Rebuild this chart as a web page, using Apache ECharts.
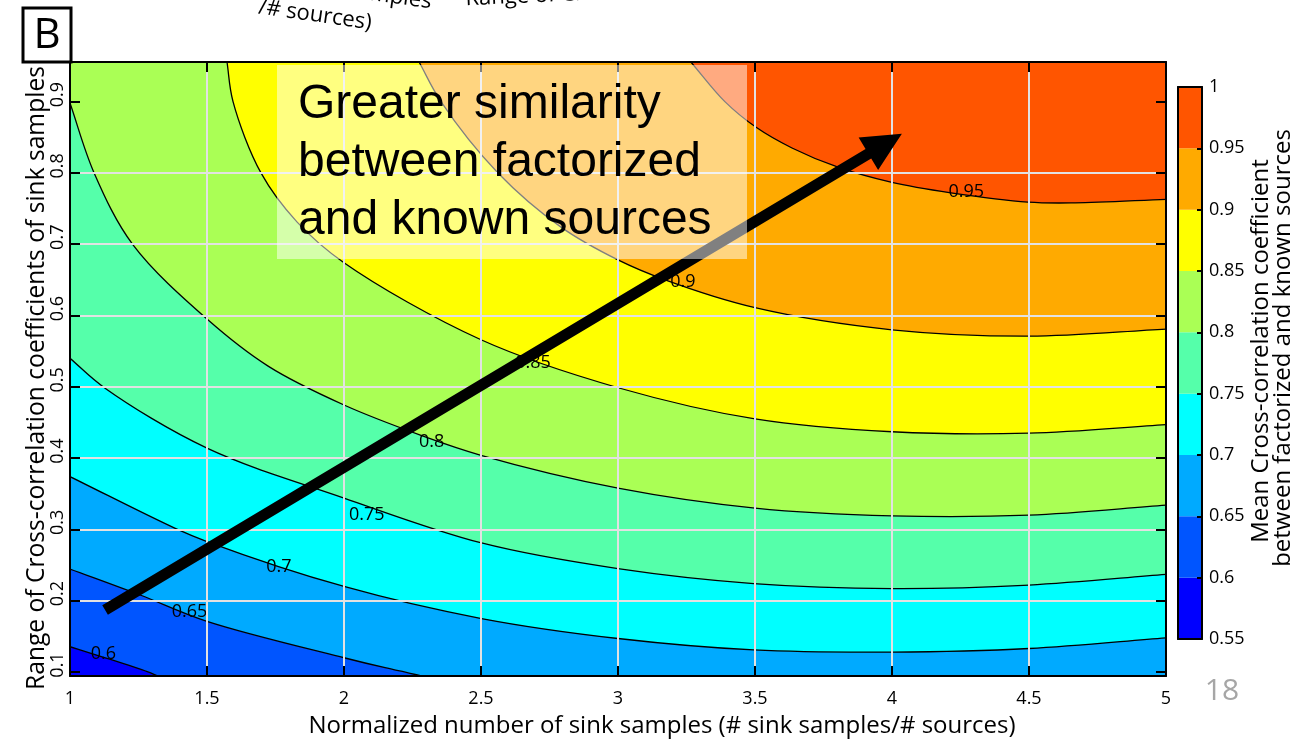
<!DOCTYPE html>
<html>
<head>
<meta charset="utf-8">
<script src="https://cdn.jsdelivr.net/npm/echarts@6/dist/echarts.min.js"></script>
<style>
  html, body { margin: 0; padding: 0; background: #fff; }
  #chart { width: 1294px; height: 744px; }
</style>
</head>
<body>
<div id="chart"></div>
<script>
// ---- data -------------------------------------------------------------
// contour levels (band edges) and the colour of each band between them
const levels = [0.55, 0.6, 0.65, 0.7, 0.75, 0.8, 0.85, 0.9, 0.95, 1.0];
const bandColors = ['#0000FF', '#0055FF', '#00AAFF', '#00FFFF', '#55FFAA',
                    '#AAFF55', '#FFFF00', '#FFAA00', '#FF5500'];

// axis ranges and ticks
const xRange = [1, 5];
const yRange = [0.0944, 0.9556];
const yTicks = [0.1, 0.2, 0.3, 0.4, 0.5, 0.6, 0.7, 0.8, 0.9];

// contour lines: [normalized number of sink samples, range of cross-correlation]
const contour095 = [[3.266, 0.9556], [3.390, 0.900], [3.504, 0.864], [3.635, 0.835], [3.803, 0.808],
                    [3.996, 0.787], [4.215, 0.772], [4.496, 0.759], [4.668, 0.758], [5.000, 0.763]];
const contour090 = [[2.274, 0.9556], [2.354, 0.900], [2.562, 0.800], [2.792, 0.724], [3.000, 0.678],
                    [3.172, 0.650], [3.500, 0.611], [4.000, 0.580], [4.500, 0.571], [5.000, 0.581]];
const contour085 = [[1.573, 0.9556], [1.595, 0.900], [1.697, 0.800], [1.829, 0.731], [2.000, 0.674],
                    [2.500, 0.566], [3.007, 0.498], [3.500, 0.455], [4.000, 0.437], [4.500, 0.435],
                    [5.000, 0.447]];
const contour080 = [[1.000, 0.898], [1.088, 0.800], [1.230, 0.699], [1.500, 0.595], [1.723, 0.529],
                    [2.000, 0.4745], [2.281, 0.432], [2.500, 0.404], [3.000, 0.358], [3.500, 0.330],
                    [4.000, 0.319], [4.500, 0.320], [5.000, 0.334]];
const contour075 = [[1.000, 0.540], [1.128, 0.498], [1.500, 0.414], [2.000, 0.344], [2.502, 0.281],
                    [3.000, 0.245], [3.495, 0.224], [4.000, 0.217], [4.500, 0.222], [5.000, 0.237]];
const contour070 = [[1.000, 0.374], [1.384, 0.3015], [1.500, 0.283], [2.000, 0.220], [2.502, 0.175],
                    [3.000, 0.147], [3.495, 0.131], [4.000, 0.128], [4.500, 0.133], [5.000, 0.148]];
const contour065 = [[1.000, 0.2445], [1.256, 0.208], [1.500, 0.171], [2.000, 0.120], [2.150, 0.106],
                    [2.287, 0.0944]];
const contour060 = [[1.000, 0.1355], [1.120, 0.121], [1.282, 0.1004], [1.320, 0.0944]];

// inline contour labels: [x, y, text]
const contourLabels = [[1.122, 0.126, '0.6'], [1.436, 0.1846, '0.65'], [1.762, 0.2477, '0.7'],
                       [2.083, 0.320, '0.75'], [2.320, 0.423, '0.8'], [2.690, 0.533, '0.85'],
                       [3.237, 0.647, '0.9'], [4.271, 0.774, '0.95']];

// trend arrow: tail and head
const arrowTail = [1.128, 0.187];
const arrowTip = [4.036, 0.855];

// ---- drawing ----------------------------------------------------------
const contours = [
  { level: 0.95, pts: contour095 },
  { level: 0.9, pts: contour090 },
  { level: 0.85, pts: contour085 },
  { level: 0.8, pts: contour080 },
  { level: 0.75, pts: contour075 },
  { level: 0.7, pts: contour070 },
  { level: 0.65, pts: contour065 },
  { level: 0.6, pts: contour060 }
];

const FONT = '"Open Sans", "Noto Sans", sans-serif';
const GRID_COLOR = '#e2e2e2';

// centripetal Catmull-Rom spline through pixel points, as cubic Bezier commands
function splineCommands(P) {
  const n = P.length;
  const ext = [[2 * P[0][0] - P[1][0], 2 * P[0][1] - P[1][1]]].concat(P,
              [[2 * P[n - 1][0] - P[n - 2][0], 2 * P[n - 1][1] - P[n - 2][1]]]);
  const dist = (a, b) => Math.hypot(b[0] - a[0], b[1] - a[1]);
  let d = '';
  for (let i = 1; i < ext.length - 2; i++) {
    const p0 = ext[i - 1], p1 = ext[i], p2 = ext[i + 1], p3 = ext[i + 2];
    const d1 = Math.sqrt(dist(p0, p1)), d2 = Math.sqrt(dist(p1, p2)), d3 = Math.sqrt(dist(p2, p3));
    const a = 2 * d1 * d1 + 3 * d1 * d2 + d2 * d2, na = 3 * d1 * (d1 + d2);
    const b = 2 * d3 * d3 + 3 * d3 * d2 + d2 * d2, nb = 3 * d3 * (d3 + d2);
    const c1 = [(p1[0] * a - p0[0] * d2 * d2 + p2[0] * d1 * d1) / na,
                (p1[1] * a - p0[1] * d2 * d2 + p2[1] * d1 * d1) / na];
    const c2 = [(p2[0] * b + p1[0] * d3 * d3 - p3[0] * d2 * d2) / nb,
                (p2[1] * b + p1[1] * d3 * d3 - p3[1] * d2 * d2) / nb];
    d += ' C' + c1[0] + ',' + c1[1] + ' ' + c2[0] + ',' + c2[1] + ' ' + p2[0] + ',' + p2[1];
  }
  return d;
}

function bandBelow(level) {
  const idx = levels.findIndex(l => Math.abs(l - level) < 1e-9);
  return bandColors[idx - 1];
}

// region under each contour, filled with the band colour just below that level
function renderFill(params, api) {
  const c = contours[params.dataIndex];
  const P = c.pts.map(p => api.coord(p));
  const first = c.pts[0], last = c.pts[c.pts.length - 1];
  const bl = api.coord([xRange[0], yRange[0]]);
  let d = 'M' + bl[0] + ',' + bl[1];
  if (first[0] > xRange[0] + 1e-9) {
    const tl = api.coord([xRange[0], yRange[1]]);
    d += ' L' + tl[0] + ',' + tl[1];
  }
  d += ' L' + P[0][0] + ',' + P[0][1] + splineCommands(P);
  const lb = api.coord([last[0], yRange[0]]);
  d += ' L' + lb[0] + ',' + lb[1] + ' Z';
  return { type: 'path', shape: { pathData: d }, style: { fill: bandBelow(c.level), stroke: null } };
}

function renderLine(params, api) {
  const c = contours[params.dataIndex];
  const P = c.pts.map(p => api.coord(p));
  const d = 'M' + P[0][0] + ',' + P[0][1] + splineCommands(P);
  return { type: 'path', shape: { pathData: d }, style: { fill: 'none', stroke: '#000', lineWidth: 1.3 } };
}

function renderLabel(params, api) {
  const l = contourLabels[params.dataIndex];
  const p = api.coord([l[0], l[1]]);
  return {
    type: 'text', x: p[0], y: p[1],
    style: { text: l[2], font: '18px ' + FONT, fill: '#000',
             align: 'center', verticalAlign: 'middle', textAlign: 'center', textVerticalAlign: 'middle' }
  };
}

function renderArrow(params, api) {
  const a = api.coord([api.value(0), api.value(1)]);
  const b = api.coord([api.value(2), api.value(3)]);
  const len = Math.hypot(b[0] - a[0], b[1] - a[1]);
  const ux = (b[0] - a[0]) / len, uy = (b[1] - a[1]) / len;
  const nx = -uy, ny = ux;
  const shaft = 5.5, head = 19, headLen = 39;
  const bx = b[0] - ux * headLen, by = b[1] - uy * headLen;
  const pts = [
    [a[0] + nx * shaft, a[1] + ny * shaft],
    [bx + nx * shaft, by + ny * shaft],
    [bx + nx * head, by + ny * head],
    [b[0], b[1]],
    [bx - nx * head, by - ny * head],
    [bx - nx * shaft, by - ny * shaft],
    [a[0] - nx * shaft, a[1] - ny * shaft]
  ];
  return { type: 'polygon', shape: { points: pts }, style: { fill: '#000' } };
}

function renderBand(params, api) {
  const lo = api.value(0), hi = api.value(1);
  const p1 = api.coord([0, hi]);
  const p2 = api.coord([1, lo]);
  return { type: 'rect', shape: { x: p1[0], y: p1[1], width: p2[0] - p1[0], height: p2[1] - p1[1] },
           style: { fill: bandColors[params.dataIndex] } };
}

function frameAxis(extra) {
  return Object.assign({
    type: 'value', z: 5,
    axisLine: { show: true, onZero: false, lineStyle: { color: '#000', width: 2 } },
    axisTick: { show: false },
    axisLabel: { show: false },
    splitLine: { show: false }
  }, extra);
}

function textEl(x, y, text, font, extra) {
  return Object.assign({
    type: 'text', z: 100, x: x, y: y,
    style: { text: text, font: font, fill: '#000',
             align: 'center', verticalAlign: 'middle', textAlign: 'center', textVerticalAlign: 'middle' }
  }, extra || {});
}

const tickStyle = { color: '#000', width: 2 };
const labelStyle = { fontFamily: FONT, fontSize: 18, color: '#000' };

const option = {
  animation: false,
  backgroundColor: '#fff',
  grid: [
    { left: 70, top: 62, width: 1096, height: 614, show: true,
      backgroundColor: bandColors[bandColors.length - 1], borderWidth: 0 },
    { left: 1178, top: 87, width: 24, height: 552, show: false }
  ],
  xAxis: [
    frameAxis({ gridIndex: 0, position: 'bottom', min: xRange[0], max: xRange[1], interval: 0.5,
      axisTick: { show: true, inside: true, length: 10, lineStyle: tickStyle },
      axisLabel: Object.assign({ show: true, margin: 14 }, labelStyle),
      splitLine: { show: true, showMinLine: false, showMaxLine: false, lineStyle: { color: GRID_COLOR, width: 2 } } }),
    frameAxis({ gridIndex: 0, position: 'top', min: xRange[0], max: xRange[1], interval: 0.5,
      axisTick: { show: true, inside: true, length: 10, lineStyle: tickStyle } }),
    frameAxis({ gridIndex: 1, position: 'bottom', min: 0, max: 1 }),
    frameAxis({ gridIndex: 1, position: 'top', min: 0, max: 1 })
  ],
  yAxis: [
    frameAxis({ gridIndex: 0, position: 'left', min: yRange[0], max: yRange[1],
      axisTick: { show: true, inside: true, length: 10, lineStyle: tickStyle, customValues: yTicks },
      axisLabel: Object.assign({ show: true, customValues: yTicks, rotate: 90, margin: 3, padding: [0, 0, 0, 14] }, labelStyle),
      splitLine: { show: true, showMinLine: false, showMaxLine: false, lineStyle: { color: GRID_COLOR, width: 2 } } }),
    frameAxis({ gridIndex: 0, position: 'right', min: yRange[0], max: yRange[1],
      axisTick: { show: true, inside: true, length: 10, lineStyle: tickStyle, customValues: yTicks } }),
    frameAxis({ gridIndex: 1, position: 'left', min: levels[0], max: levels[levels.length - 1], interval: 0.05 }),
    frameAxis({ gridIndex: 1, position: 'right', min: levels[0], max: levels[levels.length - 1], interval: 0.05,
      axisTick: { show: true, inside: true, length: 5, lineStyle: tickStyle },
      axisLabel: Object.assign({ show: true, margin: 7, formatter: v => String(+v.toFixed(2)) }, labelStyle) })
  ],
  series: [
    { type: 'custom', name: 'bands', xAxisIndex: 0, yAxisIndex: 0, clip: true, z: 1, silent: true,
      data: contours.map((c, i) => i), renderItem: renderFill },
    { type: 'custom', name: 'contours', xAxisIndex: 0, yAxisIndex: 0, clip: true, z: 2, silent: true,
      data: contours.map((c, i) => i), renderItem: renderLine },
    { type: 'custom', name: 'contour labels', xAxisIndex: 0, yAxisIndex: 0, z: 3, silent: true,
      data: contourLabels.map(l => [l[0], l[1]]), renderItem: renderLabel },
    { type: 'custom', name: 'trend', xAxisIndex: 0, yAxisIndex: 0, z: 8, silent: true,
      data: [[arrowTail[0], arrowTail[1], arrowTip[0], arrowTip[1]]], renderItem: renderArrow },
    { type: 'custom', name: 'colorbar', xAxisIndex: 2, yAxisIndex: 2, z: 1, silent: true,
      data: bandColors.map((c, i) => [levels[i], levels[i + 1]]), renderItem: renderBand }
  ],
  graphic: [
    { type: 'rect', z: 100, shape: { x: 277, y: 65, width: 470, height: 194 },
      style: { fill: 'rgba(255,255,255,0.5)' } },
    { type: 'text', z: 101, x: 298, y: 76,
      style: { text: 'Greater similarity\nbetween factorized\nand known sources',
               font: '48px "Liberation Sans", Arial, sans-serif', fill: '#000', lineHeight: 58,
               align: 'left', verticalAlign: 'top', textAlign: 'left', textVerticalAlign: 'top' } },
    { type: 'rect', z: 100, shape: { x: 23, y: 8, width: 48, height: 54 },
      style: { fill: '#fff', stroke: '#000', lineWidth: 3 } },
    textEl(47, 36, 'B', '42px ' + FONT, { z: 101 }),
    textEl(662, 726, 'Normalized number of sink samples (# sink samples/# sources)', '24px ' + FONT),
    textEl(37, 378, 'Range of Cross-correlation coefficients of sink samples', '24.6px ' + FONT,
           { rotation: Math.PI / 2 }),
    textEl(1261, 351, 'Mean Cross-correlation coefficient', '24px ' + FONT, { rotation: Math.PI / 2 }),
    textEl(1283, 348, 'between factorized and known sources', '24px ' + FONT, { rotation: Math.PI / 2 }),
    { type: 'text', z: 100, x: 1222, y: 691,
      style: { text: '18', font: '30px ' + FONT, fill: '#a6a6a6',
               align: 'center', verticalAlign: 'middle', textAlign: 'center', textVerticalAlign: 'middle' } },
    { type: 'text', z: 100, x: 430, y: 13, rotation: -0.14,
      style: { text: 'Normalized number of sink samples (# sink samples', font: '22px ' + FONT, fill: '#000',
               align: 'right', verticalAlign: 'bottom', textAlign: 'right', textVerticalAlign: 'bottom' } },
    { type: 'text', z: 100, x: 370, y: 34, rotation: -0.14,
      style: { text: '/# sources)', font: '22px ' + FONT, fill: '#000',
               align: 'right', verticalAlign: 'bottom', textAlign: 'right', textVerticalAlign: 'bottom' } },
    { type: 'text', z: 100, x: 466, y: 10, rotation: 0.045,
      style: { text: 'Range of Cross-correlation coefficients', font: '22px ' + FONT, fill: '#000',
               align: 'left', verticalAlign: 'bottom', textAlign: 'left', textVerticalAlign: 'bottom' } }
  ]
};

const chart = echarts.init(document.getElementById('chart'));
chart.setOption(option);
</script>
</body>
</html>
